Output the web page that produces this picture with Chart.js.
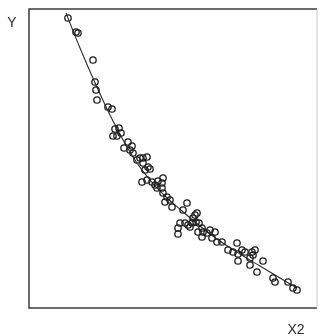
<!DOCTYPE html>
<html>
<head>
<meta charset="utf-8">
<script src="https://cdn.jsdelivr.net/npm/chart.js@4/dist/chart.umd.min.js"></script>
<style>
  html, body { margin: 0; padding: 0; background: #fff; }
  #wrap { width: 324px; height: 336px; }
</style>
</head>
<body>
<div id="wrap"><canvas id="scatter" width="324" height="336"></canvas></div>
<script>
const xs = [39, 47, 49, 64, 66, 67, 68, 79, 83, 86, 90, 92, 84, 88, 99, 103, 95, 104, 101,
    108, 111, 114, 118, 114, 119, 116, 121, 113, 118, 123, 126, 129, 133, 134, 128, 133,
    134, 138, 136, 141, 158, 143, 154, 166, 168, 164, 167, 151, 156, 159, 163, 149, 149,
    161, 170, 173, 169, 174, 178, 181, 186, 173, 183, 188, 193, 199, 208, 204, 209, 213,
    216, 223, 226, 209, 221, 224, 221, 228, 234, 244, 246, 259, 264, 268];
const ys = [290, 276, 275, 248, 226, 218, 208, 201, 199, 179, 180, 175, 172, 172, 166, 162, 160, 155, 158,
    148, 150, 150, 151, 145, 141, 138, 139, 126, 128, 126, 123, 127, 125, 130, 120, 120,
    115, 111, 106, 108, 105, 101, 98, 93, 95, 90, 86, 85, 85, 83, 85, 80, 74,
    81, 85, 80, 76, 76, 75, 78, 76, 71, 70, 66, 66, 58, 65, 56, 54, 58,
    56, 56, 58, 47, 50, 53, 43, 36, 47, 30, 26, 26, 20, 18];

// fitted curve
const fitX = [37, 51, 67, 83, 104, 121, 136, 153, 171, 188, 211, 231, 251, 268];
const fitY = [295, 260, 223, 189, 151, 128, 112, 97, 82, 69, 54, 42, 30, 20];

const xLabel = 'X2';
const yLabel = 'Y';

const framePlugin = {
    id: 'frame',
    afterDraw(chart) {
        const {ctx, chartArea: a} = chart;
        ctx.save();
        ctx.strokeStyle = '#3a3a48';
        ctx.lineWidth = 1.5;
        ctx.beginPath();
        ctx.moveTo(a.right, a.top);
        ctx.lineTo(a.left, a.top);
        ctx.lineTo(a.left, a.bottom);
        ctx.lineTo(a.right, a.bottom);
        ctx.stroke();
        ctx.strokeStyle = '#c8c8c8';
        ctx.lineWidth = 1;
        ctx.beginPath();
        ctx.moveTo(a.right, a.top);
        ctx.lineTo(a.right, a.bottom);
        ctx.stroke();

        ctx.fillStyle = '#2a2a2a';
        ctx.font = '14px "Liberation Sans", Arial, sans-serif';
        ctx.textBaseline = 'middle';
        ctx.textAlign = 'center';
        ctx.fillText(yLabel, 12, 23);
        ctx.fillText(xLabel, 296, 330);
        ctx.restore();
    }
};

new Chart(document.getElementById('scatter'), {
    type: 'scatter',
    data: {
        datasets: [{
            data: xs.map((x, i) => ({x: x, y: ys[i]})),
            pointRadius: 3.2,
            pointHoverRadius: 3.2,
            pointBorderWidth: 1.3,
            borderColor: '#1e1e1e',
            backgroundColor: 'rgba(0,0,0,0)'
        }, {
            data: fitX.map((x, i) => ({x: x, y: fitY[i]})),
            showLine: true,
            pointRadius: 0,
            borderColor: '#2a2a2a',
            borderWidth: 1.1,
            tension: 0.4
        }]
    },
    options: {
        responsive: false,
        animation: false,
        layout: { padding: { left: 29, top: 9, right: 7, bottom: 28 } },
        scales: {
            x: { type: 'linear', min: 0, max: 288, display: false },
            y: { type: 'linear', min: 0, max: 299, display: false }
        },
        plugins: {
            legend: { display: false },
            tooltip: { enabled: false }
        }
    },
    plugins: [framePlugin]
});
</script>
</body>
</html>
